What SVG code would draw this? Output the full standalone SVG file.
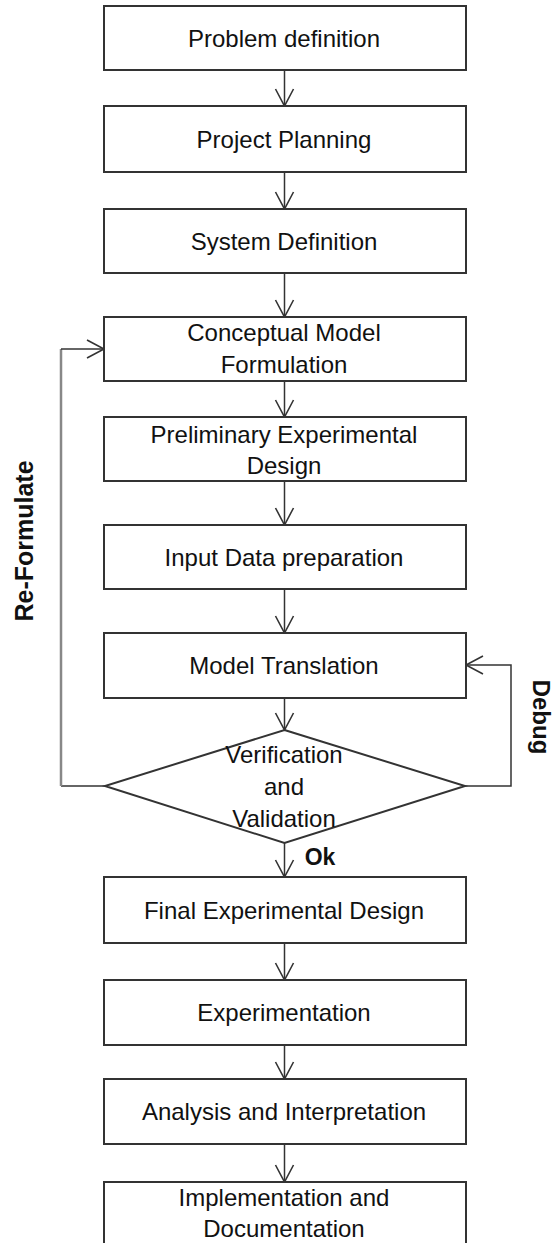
<svg xmlns="http://www.w3.org/2000/svg" width="557" height="1243" viewBox="0 0 557 1243">
<style>
.box{fill:#fff;stroke:#333;stroke-width:2}
.lbl{font-family:"Liberation Sans",Arial,sans-serif;font-size:24px;fill:#111;text-anchor:middle}
.side{font-family:"Liberation Sans",Arial,sans-serif;font-weight:bold;fill:#111;text-anchor:middle}
.con{fill:none;stroke:#333;stroke-width:1.5}
</style>
<defs>
<marker id="arr" markerUnits="userSpaceOnUse" markerWidth="22" markerHeight="22" viewBox="-19 -11 22 22" refX="0" refY="0" orient="auto">
<path d="M-17,-9 L0,0 L-17,9" fill="none" stroke="#333" stroke-width="1.6"/>
</marker>
</defs>
<rect width="557" height="1243" fill="#fff"/>
<g id="connectors">
<line class="con" x1="284.5" y1="70" x2="284.5" y2="106" marker-end="url(#arr)"/>
<line class="con" x1="284.5" y1="172" x2="284.5" y2="209" marker-end="url(#arr)"/>
<line class="con" x1="284.5" y1="273" x2="284.5" y2="317" marker-end="url(#arr)"/>
<line class="con" x1="284.5" y1="381" x2="284.5" y2="417" marker-end="url(#arr)"/>
<line class="con" x1="284.5" y1="481" x2="284.5" y2="525" marker-end="url(#arr)"/>
<line class="con" x1="284.5" y1="589" x2="284.5" y2="633" marker-end="url(#arr)"/>
<line class="con" x1="284.5" y1="698" x2="284.5" y2="730" marker-end="url(#arr)"/>
<line class="con" x1="284.5" y1="843" x2="284.5" y2="877" marker-end="url(#arr)"/>
<line class="con" x1="284.5" y1="943" x2="284.5" y2="980" marker-end="url(#arr)"/>
<line class="con" x1="284.5" y1="1045" x2="284.5" y2="1079" marker-end="url(#arr)"/>
<line class="con" x1="284.5" y1="1144" x2="284.5" y2="1182" marker-end="url(#arr)"/>
<path class="con" d="M105,786 H61"/>
<line x1="61" y1="786" x2="61" y2="349" stroke="#888" stroke-width="2.5"/>
<path class="con" d="M61,349 H104" marker-end="url(#arr)"/>
<path class="con" d="M465,786 H511 V665 H466" marker-end="url(#arr)"/>
</g>
<g id="n1"><rect class="box" x="104" y="6" width="362" height="64"/><text class="lbl" x="284" y="47">Problem definition</text></g>
<g id="n2"><rect class="box" x="104" y="106" width="362" height="66"/><text class="lbl" x="284" y="147.5">Project Planning</text></g>
<g id="n3"><rect class="box" x="104" y="209" width="362" height="64"/><text class="lbl" x="284" y="249.5">System Definition</text></g>
<g id="n4"><rect class="box" x="104" y="317" width="362" height="64"/><text class="lbl" x="284" y="341">Conceptual Model</text><text class="lbl" x="284" y="373">Formulation</text></g>
<g id="n5"><rect class="box" x="104" y="417" width="362" height="64"/><text class="lbl" x="284" y="443">Preliminary Experimental</text><text class="lbl" x="284" y="474">Design</text></g>
<g id="n6"><rect class="box" x="104" y="525" width="362" height="64"/><text class="lbl" x="284" y="565.5">Input Data preparation</text></g>
<g id="n7"><rect class="box" x="104" y="633" width="362" height="65"/><text class="lbl" x="284" y="674">Model Translation</text></g>
<g id="n8"><polygon class="box" points="284.5,730 465,786 284.5,843 105,786"/><text class="lbl" x="284" y="762.5">Verification</text><text class="lbl" x="284" y="794.5">and</text><text class="lbl" x="284" y="826.5">Validation</text></g>
<g id="n9"><rect class="box" x="104" y="877" width="362" height="66"/><text class="lbl" x="284" y="919">Final Experimental Design</text></g>
<g id="n10"><rect class="box" x="104" y="980" width="362" height="65"/><text class="lbl" x="284" y="1021">Experimentation</text></g>
<g id="n11"><rect class="box" x="104" y="1079" width="362" height="65"/><text class="lbl" x="284" y="1120">Analysis and Interpretation</text></g>
<g id="n12"><rect class="box" x="104" y="1182" width="362" height="70"/><text class="lbl" x="284" y="1206">Implementation and</text><text class="lbl" x="284" y="1237">Documentation</text></g>
<g id="labels">
<text class="side" x="320" y="865" font-size="23">Ok</text>
<text class="side" font-size="25" transform="translate(33,541) rotate(-90)">Re-Formulate</text>
<text class="side" font-size="24" transform="translate(533,717) rotate(90)">Debug</text>
</g>
</svg>
